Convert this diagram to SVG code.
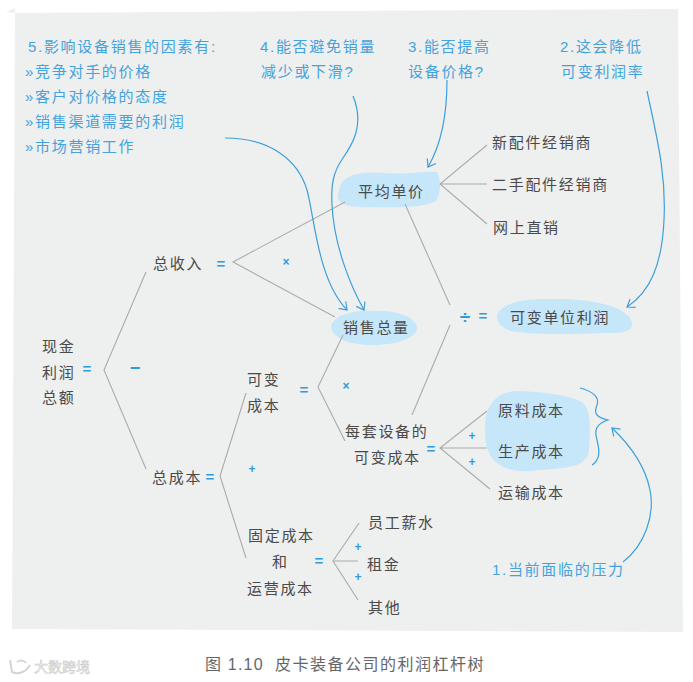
<svg xmlns="http://www.w3.org/2000/svg" width="693" height="682" viewBox="0 0 693 682">
<style>
text{font-family:"Liberation Sans","Noto Sans CJK SC",sans-serif;font-size:15px;letter-spacing:1.7px}
.k{fill:#4a4a4a}
.b{fill:#45a3dc}
.o{fill:#2f9bdc;font-weight:700;letter-spacing:0;text-anchor:middle}
.x{font-size:12px}
.blob{fill:#c6e6f9}
.l{fill:none;stroke:#ababab;stroke-width:1.1}
.a{fill:none;stroke:#3d9fdb;stroke-width:1.2}
.h{marker-end:url(#arr)}
</style>
<defs>
<marker id="arr" markerWidth="12" markerHeight="12" refX="9" refY="5" orient="auto" markerUnits="userSpaceOnUse" overflow="visible">
<path d="M2 0L9 5L2 10" fill="none" stroke="#3d9fdb" stroke-width="1.2"/>
</marker>
</defs>
<path d="M6 12L15 8V13Z" fill="#eeefef"/>
<path d="M15 13L678 9L683 632L12 629Z" fill="#eeefef"/>

<g id="blobs">
<path class="blob" d="M340 186C345 174 362 171 385 173C405 175 425 171 437 172C441 180 441 195 436 201C425 207 400 208 375 207C355 208 336 206 338 195Z"/>
<path class="blob" d="M331 326C335 314 355 310 375 311C398 310 417 318 417 328C416 339 395 345 372 345C350 345 331 338 331 326Z"/>
<path class="blob" d="M497 316C500 304 520 298 555 299C590 299 620 305 630 318C636 328 630 334 605 333C575 334 540 335 518 332C505 331 497 325 497 316Z"/>
<path class="blob" d="M485 425C486 402 500 390 520 391C540 392 565 394 582 402C592 410 590 430 589 450C587 468 565 468 540 470C520 473 500 471 490 455C485 445 485 435 485 425Z"/>
</g>

<g id="connectors">
<path class="l" d="M146 272L104 370L146 469"/>
<path class="l" d="M345 202L233 262L335 317"/>
<path class="l" d="M246 393L220 476L246 558"/>
<path class="l" d="M343 335L318 387L345 441"/>
<path class="l" d="M487 145L440 184L487 224M440 184H487"/>
<path class="l" d="M405 204L450 305"/>
<path class="l" d="M450 325L412 415"/>
<path class="l" d="M487 411L440 448L490 489M440 448H487"/>
<path class="l" d="M359 523L333 561L358 600M333 561H358"/>
<path class="a h" d="M647 91C660 150 666 180 664 220C662 265 650 292 627 307"/>
<path class="a h" d="M447 80C447 115 441 145 428 167"/>
<path class="a h" d="M353 96C365 125 352 145 343 158C333 172 331 185 332 205C334 245 350 285 364 310"/>
<path class="a h" d="M225 138C270 138 298 160 307 190C315 220 318 280 347 310"/>
<path class="a h" d="M623 562C645 545 655 515 650 490C645 465 630 445 612 428"/>
<path class="a" d="M580 388C592 391 600 397 597 405C594 413 595 417 608 420C596 424 594 430 597 440C600 452 600 460 592 465"/>
</g>

<g id="n-notes">
<text class="b" x="28" y="52">5.影响设备销售的因素有:</text>
<text class="b" x="25" y="77">»竞争对手的价格</text>
<text class="b" x="25" y="102">»客户对价格的态度</text>
<text class="b" x="25" y="127">»销售渠道需要的利润</text>
<text class="b" x="25" y="152">»市场营销工作</text>
<text class="b" x="260" y="52">4.能否避免销量</text>
<text class="b" x="261" y="77">减少或下滑?</text>
<text class="b" x="408" y="52">3.能否提高</text>
<text class="b" x="408" y="77">设备价格?</text>
<text class="b" x="560" y="52">2.这会降低</text>
<text class="b" x="561" y="77">可变利润率</text>
<text class="b" x="492" y="575">1.当前面临的压力</text>
</g>

<g id="n-cash"><text class="k" x="42" y="352">现金</text><text class="k" x="42" y="378">利润</text><text class="k" x="42" y="403">总额</text></g>
<g id="n-revenue"><text class="k" x="153" y="269">总收入</text></g>
<g id="n-cost"><text class="k" x="152" y="483">总成本</text></g>
<g id="n-price"><text class="k" x="358" y="197">平均单价</text></g>
<g id="n-volume"><text class="k" x="343" y="333">销售总量</text></g>
<g id="n-unit-profit"><text class="k" x="510" y="323">可变单位利润</text></g>
<g id="n-ch1"><text class="k" x="492" y="148">新配件经销商</text></g>
<g id="n-ch2"><text class="k" x="492" y="190">二手配件经销商</text></g>
<g id="n-ch3"><text class="k" x="493" y="233">网上直销</text></g>
<g id="n-var"><text class="k" x="247" y="385">可变</text><text class="k" x="247" y="411">成本</text></g>
<g id="n-unit-var"><text class="k" x="345" y="437">每套设备的</text><text class="k" x="354" y="463">可变成本</text></g>
<g id="n-material"><text class="k" x="498" y="416">原料成本</text></g>
<g id="n-production"><text class="k" x="498" y="457">生产成本</text></g>
<g id="n-transport"><text class="k" x="498" y="498">运输成本</text></g>
<g id="n-fixed"><text class="k" x="248" y="541">固定成本</text><text class="k" x="272" y="567">和</text><text class="k" x="247" y="594">运营成本</text></g>
<g id="n-wages"><text class="k" x="368" y="528">员工薪水</text></g>
<g id="n-rent"><text class="k" x="367" y="570">租金</text></g>
<g id="n-other"><text class="k" x="368" y="613">其他</text></g>

<g id="operators">
<text class="o" x="87" y="374">=</text>
<text class="o" x="135" y="374" style="font-size:18px">−</text>
<text class="o" x="221" y="269">=</text>
<text class="o x" x="286" y="266">×</text>
<text class="o" x="210" y="482">=</text>
<text class="o x" x="252" y="473">+</text>
<text class="o" x="304" y="395">=</text>
<text class="o x" x="346" y="390">×</text>
<text class="o" x="465" y="324" style="font-size:19px">÷</text>
<text class="o" x="483" y="321">=</text>
<text class="o" x="431" y="454">=</text>
<text class="o x" x="472" y="440">+</text>
<text class="o x" x="472" y="466">+</text>
<text class="o" x="319" y="566">=</text>
<text class="o x" x="358" y="551">+</text>
<text class="o x" x="358" y="581">+</text>
</g>

<text x="205" y="670" fill="#666" style="font-size:16px;letter-spacing:1.2px">图 1.10</text>
<text x="275" y="670" fill="#666" style="font-size:16px;letter-spacing:1.5px">皮卡装备公司的利润杠杆树</text>
<path d="M10 660L12 672C18 675 26 672 30 665M17 662C20 660 24 660 26 663" fill="none" stroke="#d4d4d4" stroke-width="2"/>
<text x="34" y="672" fill="#f4f4f4" stroke="#cfcfcf" stroke-width=".6" style="font-size:14px;letter-spacing:0">大数跨境</text>
</svg>
